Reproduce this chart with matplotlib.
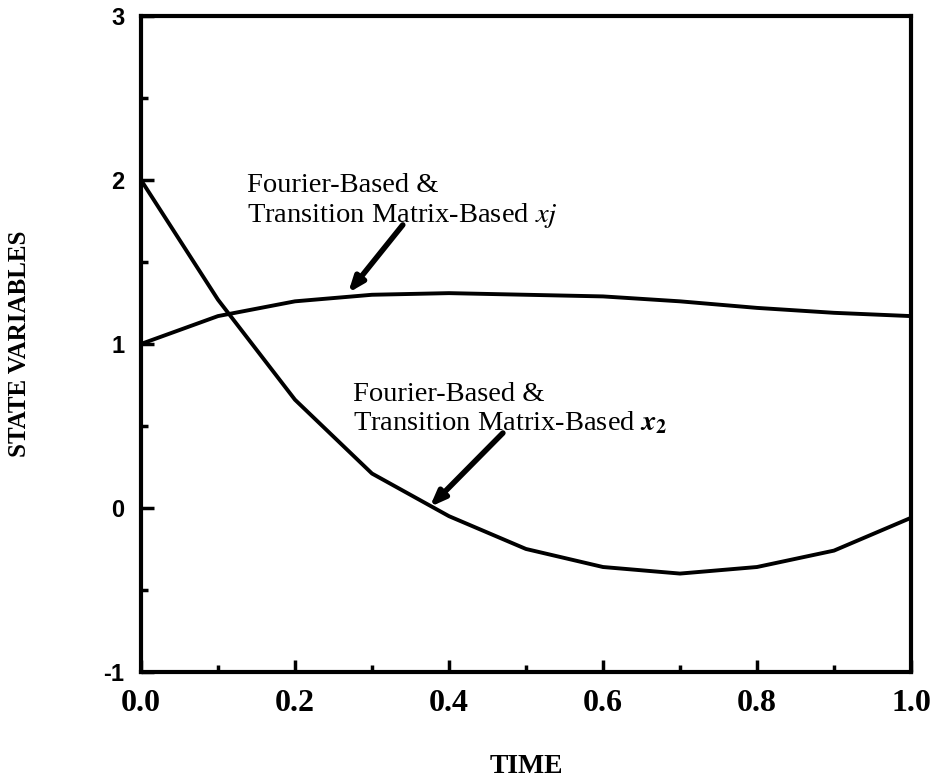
import numpy as np
import matplotlib
matplotlib.use("Agg")
import matplotlib.pyplot as plt
from matplotlib.ticker import MultipleLocator

plt.rcParams['mathtext.fontset'] = 'stix'

# values (piecewise linear, step 0.1)
time = [0.0, 0.1, 0.2, 0.3, 0.4, 0.5, 0.6, 0.7, 0.8, 0.9, 1.0]
x1 = [1.00, 1.17, 1.26, 1.30, 1.31, 1.30, 1.29, 1.26, 1.22, 1.19, 1.17]
x2 = [2.00, 1.27, 0.66, 0.21, -0.05, -0.25, -0.36, -0.40, -0.36, -0.26, -0.06]

xticks = [0.0, 0.2, 0.4, 0.6, 0.8, 1.0]
yticks = [-1, 0, 1, 2, 3]

serif = 'Liberation Serif'
sans = 'Liberation Sans'

fig = plt.figure(figsize=(9.38, 7.83), dpi=100)
ax = fig.add_axes([0.1503, 0.1418, 0.8209, 0.8378])

ax.plot(time, x1, color='black', lw=2.8)
ax.plot(time, x2, color='black', lw=2.8)

ax.set_xlim(0, 1)
ax.set_ylim(-1, 3)
ax.set_xticks(xticks)
ax.set_yticks(yticks)
ax.xaxis.set_minor_locator(MultipleLocator(0.1))
ax.yaxis.set_minor_locator(MultipleLocator(0.5))
ax.set_xticklabels(['%.1f' % v for v in xticks], fontfamily=serif,
                   fontweight='bold', fontsize=23)
ax.set_yticklabels([str(v) for v in yticks], fontfamily=sans,
                   fontweight='bold', fontsize=17)
ax.tick_params(which='both', direction='in', width=2.5, top=False, right=False)
ax.tick_params(which='major', length=9)
ax.tick_params(which='minor', length=5)
ax.tick_params(axis='x', pad=12)
ax.tick_params(axis='y', pad=12)
for sp in ax.spines.values():
    sp.set_linewidth(3)

ax.set_xlabel('TIME', fontfamily=serif, fontweight='bold', fontsize=20,
              labelpad=26)
ax.set_ylabel('STATE VARIABLES', fontfamily=serif, fontweight='bold',
              fontsize=18, labelpad=52)

# annotations
fs = 20.5
ax.text(0.138, 1.927, 'Fourier-Based &', fontfamily=serif, fontsize=fs,
        va='baseline')
ax.text(0.138, 1.744, r'Transition Matrix-Based $\mathit{xj}$', fontfamily=serif,
        fontsize=fs, va='baseline')
ax.text(0.275, 0.652, 'Fourier-Based &', fontfamily=serif, fontsize=fs,
        va='baseline')
ax.text(0.275, 0.470, r'Transition Matrix-Based $\boldsymbol{x}_{\boldsymbol{2}}$',
        fontfamily=serif, fontsize=fs, va='baseline')

arrow = dict(arrowstyle='-|>,head_length=0.9,head_width=0.35', color='black',
             lw=4, shrinkA=0, shrinkB=0, fill=False)
ax.annotate('', xy=(0.269, 1.311), xytext=(0.340, 1.726), arrowprops=arrow)
ax.annotate('', xy=(0.375, 0.006), xytext=(0.470, 0.457), arrowprops=arrow)

fig.savefig('out.png', dpi=100)
